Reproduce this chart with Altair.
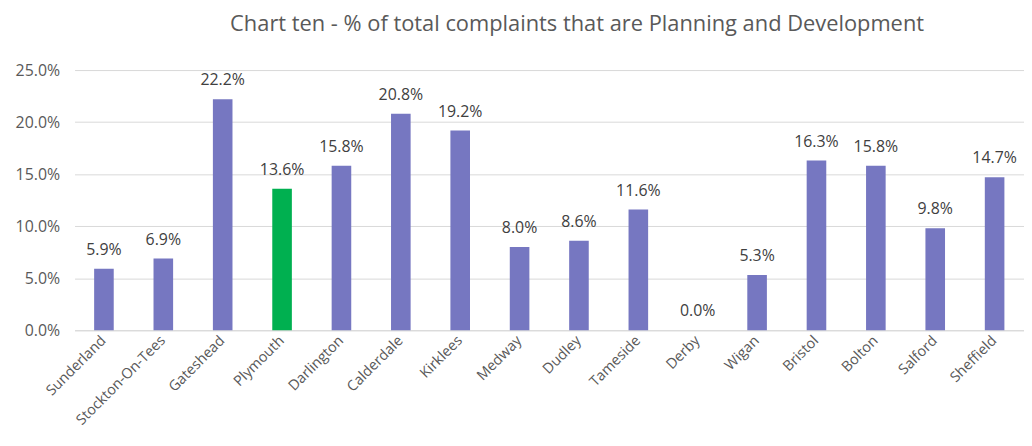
import altair as alt
import pandas as pd

councils = ["Sunderland", "Stockton-On-Tees", "Gateshead", "Plymouth", "Darlington",
            "Calderdale", "Kirklees", "Medway", "Dudley", "Tameside", "Derby", "Wigan",
            "Bristol", "Bolton", "Salford", "Sheffield"]
values = [0.059, 0.069, 0.222, 0.136, 0.158, 0.208, 0.192, 0.080, 0.086, 0.116,
          0.000, 0.053, 0.163, 0.158, 0.098, 0.147]
highlight = ["Plymouth"]

df = pd.DataFrame({"council": councils, "value": values})
df["group"] = ["hl" if c in highlight else "base" for c in councils]

FONT = "Open Sans"

x = alt.X("council:N", sort=councils, title=None,
          scale=alt.Scale(paddingInner=0.67, paddingOuter=0.33),
          axis=alt.Axis(labelAngle=-45, labelAlign="right", labelBaseline="middle",
                        labelFontSize=14.5, labelColor="#595959", labelFont=FONT,
                        labelPadding=8, ticks=False, domainColor="#d9d9d9",
                        domainWidth=1.2, grid=False))
y = alt.Y("value:Q", title=None,
          scale=alt.Scale(domain=[0, 0.25], nice=False),
          axis=alt.Axis(format=".1%", values=[0, 0.05, 0.10, 0.15, 0.20, 0.25],
                        labelFontSize=16, labelColor="#595959", labelFont=FONT,
                        labelPadding=15, ticks=False, domain=False,
                        gridColor="#d9d9d9", gridWidth=1))

bars = alt.Chart(df).mark_bar().encode(
    x=x, y=y,
    color=alt.Color("group:N", scale=alt.Scale(domain=["base", "hl"],
                                               range=["#7677C1", "#00B050"]),
                    legend=None),
)
labels = alt.Chart(df).mark_text(baseline="middle", dy=-19, fontSize=16,
                                 color="#404040", font=FONT).encode(
    x=alt.X("council:N", sort=councils),
    y="value:Q",
    text=alt.Text("value:Q", format=".1%"),
)

chart = (bars + labels).properties(
    width=956, height=262,
    autosize=alt.AutoSizeParams(type="none"),
    padding={"left": 67, "top": 61, "right": 0, "bottom": 108},
    title=alt.TitleParams("Chart ten - % of total complaints that are Planning and Development",
                          fontSize=22, font=FONT, fontWeight="normal", color="#595959",
                          anchor="middle", dx=28, offset=26),
).configure_view(stroke=None)

chart.save("out.html", embed_options={"renderer": "svg", "actions": False})
